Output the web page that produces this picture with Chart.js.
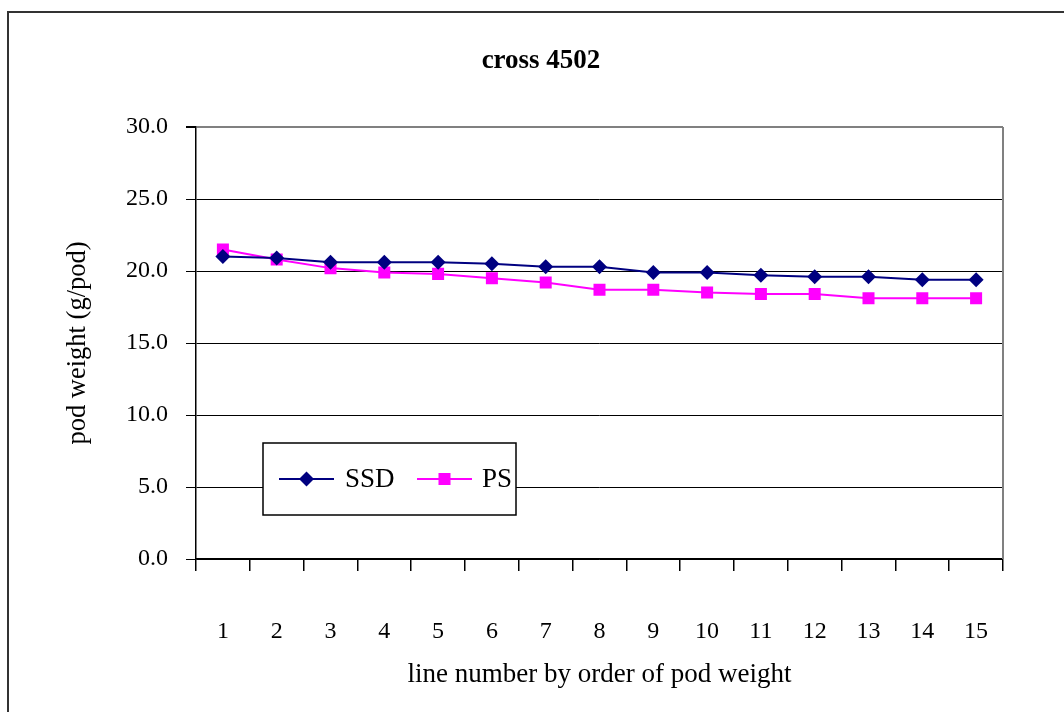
<!DOCTYPE html>
<html>
<head>
<meta charset="utf-8">
<script src="https://cdn.jsdelivr.net/npm/chart.js@4/dist/chart.umd.min.js"></script>
<style>
  html, body { margin: 0; padding: 0; background: #fff; }
  #wrap { width: 1064px; height: 712px; position: relative; }
</style>
</head>
<body>
<div id="wrap"><canvas id="podChart"></canvas></div>
<script>
const lineNumbers = ['1', '2', '3', '4', '5', '6', '7', '8', '9', '10', '11', '12', '13', '14', '15'];
const ssdWeights = [21.0, 20.9, 20.6, 20.6, 20.6, 20.5, 20.3, 20.3, 19.9, 19.9, 19.7, 19.6, 19.6, 19.4, 19.4];
const psWeights = [21.5, 20.8, 20.2, 19.9, 19.8, 19.5, 19.2, 18.7, 18.7, 18.5, 18.4, 18.4, 18.1, 18.1, 18.1];
const yTicks = [0, 5, 10, 15, 20, 25, 30];

const SERIF = "'Liberation Serif', 'Times New Roman', serif";

// frame around the whole chart + grey plot border on the right
const framePlugin = {
  id: 'frame',
  beforeDraw(chart) {
    const ctx = chart.ctx;
    ctx.save();
    ctx.fillStyle = '#fff';
    ctx.fillRect(0, 0, chart.width, chart.height);
    ctx.strokeStyle = '#333';
    ctx.lineWidth = 2;
    ctx.strokeRect(8, 12, chart.width + 20, chart.height + 20);
    ctx.restore();
  },
  beforeDatasetsDraw(chart) {
    const { ctx, chartArea } = chart;
    ctx.save();
    ctx.strokeStyle = '#808080';
    ctx.lineWidth = 2;
    ctx.beginPath();
    ctx.moveTo(chartArea.right, chartArea.top);
    ctx.lineTo(chartArea.right, chartArea.bottom);
    ctx.stroke();
    ctx.restore();
  }
};

// boxed legend sitting inside the plot
const boxLegend = {
  id: 'boxLegend',
  afterDatasetsDraw(chart) {
    const { ctx, chartArea } = chart;
    const x0 = chartArea.left + 67, y0 = chartArea.top + 316;
    const w = 253, h = 72;
    ctx.save();
    ctx.fillStyle = '#fff';
    ctx.fillRect(x0, y0, w, h);
    ctx.strokeStyle = '#000';
    ctx.lineWidth = 1.5;
    ctx.strokeRect(x0, y0, w, h);

    const cy = y0 + h / 2;
    const items = [{ ds: chart.data.datasets[0], x: x0 + 16, tx: x0 + 82 }, { ds: chart.data.datasets[1], x: x0 + 154, tx: x0 + 219 }];
    ctx.font = '27px ' + SERIF;
    ctx.textBaseline = 'middle';
    items.forEach((it) => {
      ctx.strokeStyle = it.ds.borderColor;
      ctx.lineWidth = 2;
      ctx.beginPath();
      ctx.moveTo(it.x, cy);
      ctx.lineTo(it.x + 55, cy);
      ctx.stroke();
      ctx.fillStyle = it.ds.pointBackgroundColor;
      ctx.strokeStyle = it.ds.pointBorderColor;
      Chart.helpers.drawPoint(ctx, { pointStyle: it.ds.pointStyle, radius: it.ds.pointRadius, borderWidth: 0, rotation: 0 }, it.x + 27.5, cy);
      ctx.fillStyle = '#000';
      ctx.fillText(it.ds.label, it.tx, cy + 1);
    });
    ctx.restore();
  }
};

new Chart(document.getElementById('podChart'), {
  type: 'line',
  data: {
    labels: lineNumbers,
    datasets: [
      {
        label: 'SSD',
        data: ssdWeights,
        borderColor: '#000080',
        backgroundColor: '#000080',
        borderWidth: 2,
        pointStyle: 'rectRot',
        pointRadius: 7.5,
        pointBackgroundColor: '#000080',
        pointBorderColor: '#000080',
        pointBorderWidth: 0,
        tension: 0,
        fill: false
      },
      {
        label: 'PS',
        data: psWeights,
        borderColor: '#ff00ff',
        backgroundColor: '#ff00ff',
        borderWidth: 2,
        pointStyle: 'rect',
        pointRadius: 8.5,
        pointBackgroundColor: '#ff00ff',
        pointBorderColor: '#ff00ff',
        pointBorderWidth: 0,
        tension: 0,
        fill: false
      }
    ]
  },
  options: {
    responsive: true,
    maintainAspectRatio: false,
    animation: false,
    layout: { padding: { left: 18, right: 0, top: 0, bottom: 0 } },
    plugins: {
      legend: { display: false },
      tooltip: { enabled: false },
      title: {
        display: true,
        text: 'cross 4502',
        color: '#000',
        font: { family: SERIF, size: 27, weight: 'bold' },
        padding: { top: 45, bottom: 49.6 }
      }
    },
    scales: {
      x: {
        offset: true,
        grid: {
          offset: true,
          display: true,
          drawOnChartArea: false,
          drawTicks: true,
          tickLength: 12,
          color: '#000',
          lineWidth: 1.5
        },
        border: { display: true, color: '#000', width: 1.5 },
        ticks: {
          color: '#000',
          padding: 46.6,
          maxRotation: 0,
          autoSkip: false,
          font: { family: SERIF, size: 24 }
        },
        title: {
          display: true,
          text: 'line number by order of pod weight',
          color: '#000',
          font: { family: SERIF, size: 27 },
          padding: { top: 0, bottom: 21 }
        },
        afterFit(scale) { scale.height = 153; }
      },
      y: {
        min: 0,
        max: 30,
        afterBuildTicks(scale) { scale.ticks = yTicks.map((v) => ({ value: v })); },
        grid: {
          color: (c) => (c.tick && c.tick.value === 30 ? '#808080' : '#000'),
          tickColor: '#000',
          lineWidth: (c) => (c.tick && c.tick.value === 30 ? 2 : 1),
          tickLength: 10,
          drawTicks: true
        },
        border: { display: true, color: '#000', width: 1.5 },
        ticks: {
          color: '#000',
          padding: 18,
          font: { family: SERIF, size: 24 },
          callback: (v) => Number(v).toFixed(1)
        },
        title: {
          display: true,
          text: 'pod weight (g/pod)',
          color: '#000',
          font: { family: SERIF, size: 26.5 },
          padding: { top: 44, bottom: 0 }
        },
        afterFit(scale) { scale.width = 178; }
      },
      // empty right-hand strip so the plot stops short of the frame
      yRight: {
        position: 'right',
        display: true,
        grid: { display: false },
        border: { display: false },
        ticks: { display: false },
        afterFit(scale) { scale.width = 61; }
      }
    }
  },
  plugins: [framePlugin, boxLegend]
});
</script>
</body>
</html>
